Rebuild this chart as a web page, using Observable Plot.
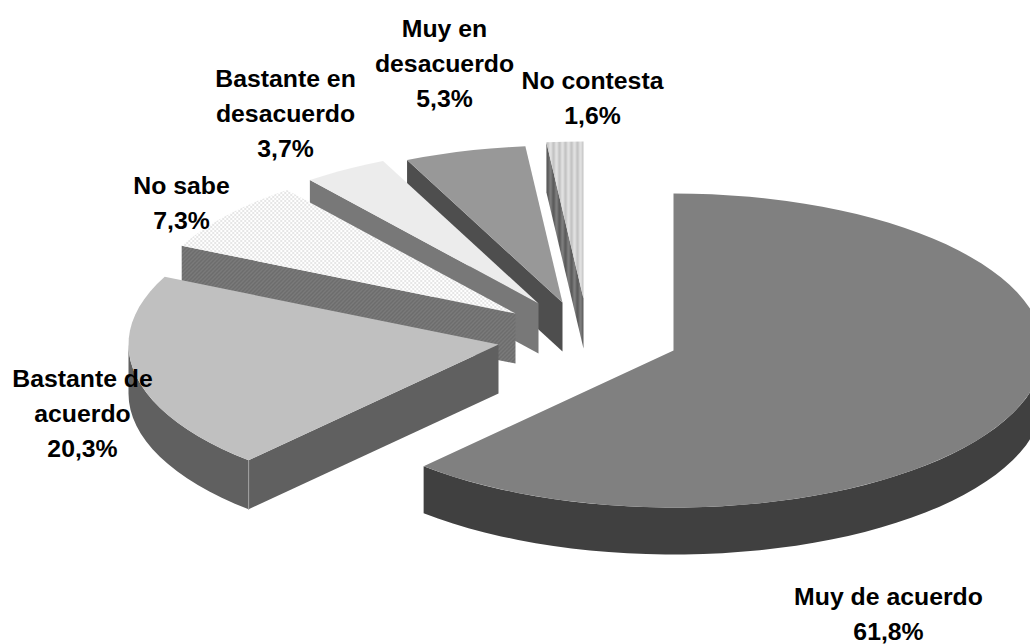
<!DOCTYPE html>
<html>
<head>
<meta charset="utf-8">
<script src="https://cdn.jsdelivr.net/npm/d3@7"></script>
<script src="https://cdn.jsdelivr.net/npm/@observablehq/plot@0.6"></script>
<style>html,body{margin:0;padding:0;background:#fff;overflow:hidden}svg{display:block}</style>
</head>
<body>
<div id="chart"></div>
<script>
// Data
const categories = ["Muy de acuerdo", "Bastante de acuerdo", "No sabe", "Bastante en desacuerdo", "Muy en desacuerdo", "No contesta"];
const percentages = [61.8, 20.3, 7.3, 3.7, 5.3, 1.6];
const labelTexts = ["Muy de acuerdo\n61,8%", "Bastante de\nacuerdo\n20,3%", "No sabe\n7,3%", "Bastante en\ndesacuerdo\n3,7%", "Muy en\ndesacuerdo\n5,3%", "No contesta\n1,6%"];

// Layout of the exploded pseudo-3D pie
const explodedX = [673, 498, 515, 538, 562, 583];
const explodedY = [350, 344, 313, 303, 302, 298];
const depths = [47, 49, 50, 50, 49, 50];
const labelX = [888, 82, 181, 285, 444, 592];
const labelY = [611, 410, 200, 110, 60, 95];
const radiusX = 370, radiusY = 157, facet = 3;

// Styles
const topFills = ["#808080", "#c0c0c0", "url(#pSabeTop)", "url(#pEnTop)", "url(#pMuyTop)", "url(#pNcTop)"];
const sideFills = ["#404040", "#606060", "url(#pSabeSide)", "#787878", "url(#pMuySide)", "url(#pNcSide)"];

function pattern(defs, id, w, h, bg, cells) {
  const p = defs.append("pattern").attr("id", id).attr("patternUnits", "userSpaceOnUse").attr("width", w).attr("height", h);
  p.append("rect").attr("width", w).attr("height", h).attr("fill", bg);
  for (const [x, y, cw, ch, c] of cells) p.append("rect").attr("x", x).attr("y", y).attr("width", cw).attr("height", ch).attr("fill", c);
}
const defsMark = () => {
  const defs = d3.create("svg:defs");
  pattern(defs, "pSabeTop", 4, 4, "#ffffff", [[0,0,1,1,"#b4b4b4"],[2,2,1,1,"#b4b4b4"],[1,0,1,1,"#e4e4e4"],[3,2,1,1,"#e4e4e4"]]);
  pattern(defs, "pSabeSide", 4, 4, "#747474", [[0,0,1,1,"#585858"],[2,2,1,1,"#585858"],[1,1,1,1,"#8a8a8a"],[3,3,1,1,"#8a8a8a"]]);
  pattern(defs, "pEnTop", 2, 2, "#f2f2f2", [[0,0,1,1,"#e6e6e6"],[1,1,1,1,"#e6e6e6"]]);
  pattern(defs, "pMuyTop", 2, 2, "#a4a4a4", [[0,0,1,1,"#8c8c8c"],[1,1,1,1,"#8c8c8c"]]);
  pattern(defs, "pMuySide", 2, 2, "#545454", [[0,0,1,1,"#484848"],[1,1,1,1,"#484848"]]);
  pattern(defs, "pNcTop", 6, 2, "#d4d4d4", [[0,0,2,2,"#c4c4c4"],[3,0,2,2,"#e0e0e0"]]);
  pattern(defs, "pNcSide", 6, 2, "#6c6c6c", [[0,0,2,2,"#5c5c5c"],[3,0,2,2,"#7c7c7c"]]);
  return defs.node();
};

// Slices from the percentages
const ends = d3.cumsum(percentages).map(v => v / 100 * 360);
const slices = categories.map((name, i) => ({
  name, cx: explodedX[i], cy: explodedY[i], depth: depths[i],
  a0: i ? ends[i - 1] : 0, a1: i === categories.length - 1 ? 360 : ends[i],
  top: topFills[i], side: sideFills[i]
}));
const rad = d => d * Math.PI / 180;
const pt = (s, a, dz = 0) => ({x: s.cx + radiusX * Math.sin(rad(a)), y: s.cy - radiusY * Math.cos(rad(a)) + dz});
const arc = (s, a0, a1, dz = 0) => {
  const n = Math.max(1, Math.ceil((a1 - a0) / facet));
  return d3.range(n + 1).map(k => pt(s, a0 + (a1 - a0) * k / n, dz));
};
const poly = (points, fill) => Plot.line(points, {x: "x", y: "y", fill, stroke: "none"});

const marks = [defsMark];
for (const s of [...slices].reverse()) {
  const c = {x: s.cx, y: s.cy}, cb = {x: s.cx, y: s.cy + s.depth};
  // cut face at the start angle, visible on the left half
  if (s.a0 >= 180) {
    marks.push(poly([c, pt(s, s.a0), pt(s, s.a0, s.depth), cb], s.side));
  }
  // outer rim, visible on the front half
  const r0 = Math.max(s.a0, 90), r1 = Math.min(s.a1, 270);
  if (r1 > r0) {
    marks.push(poly([...arc(s, r0, r1), ...arc(s, r0, r1, s.depth).reverse()], s.side));
    if (s.a0 >= 180) marks.push(Plot.line([pt(s, s.a0), pt(s, s.a0, s.depth)], {x: "x", y: "y", stroke: "#a0a0a0", strokeWidth: 1}));
  }
  // top face
  marks.push(poly([c, ...arc(s, s.a0, s.a1)], s.top));
}

const labels = categories.map((name, i) => ({name, text: labelTexts[i], x: labelX[i], y: labelY[i]}));
const textOpts = {x: "x", y: "y", text: "text", fontFamily: "'Liberation Sans', Arial, sans-serif", fontWeight: "bold", fontSize: 24.8, lineHeight: 1.41, fill: "#000"};
marks.push(Plot.text(labels.filter(d => d.name === "Bastante en desacuerdo"), textOpts));
// white box of the neighbouring label trims the text beside it
marks.push(Plot.rect([{x1: 359, x2: 369, y1: 60, y2: 130}], {x1: "x1", x2: "x2", y1: "y1", y2: "y2", fill: "#fff"}));
marks.push(Plot.text(labels.filter(d => d.name !== "Bastante en desacuerdo"), textOpts));

const chart = Plot.plot({
  width: 1030, height: 644, margin: 0,
  style: {background: "#fff"},
  x: {domain: [0, 1030], range: [0, 1030], axis: null},
  y: {domain: [0, 644], range: [0, 644], axis: null},
  marks
});
document.getElementById("chart").append(chart);
</script>
</body>
</html>
